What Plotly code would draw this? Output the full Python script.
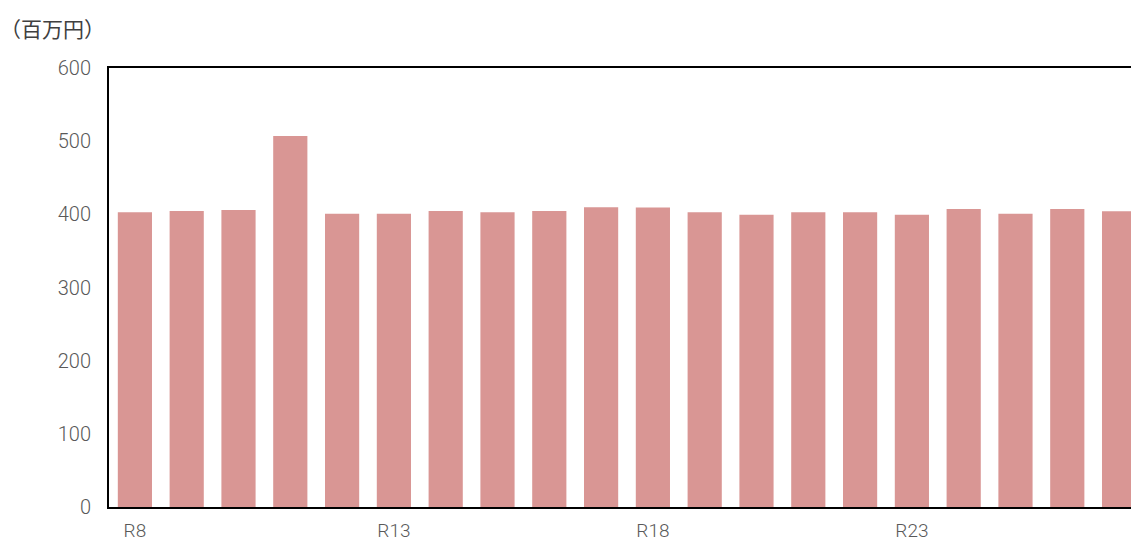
import plotly.graph_objects as go

categories = [f"R{i}" for i in range(8, 28)]
values = [402.8, 404.5, 405.9, 507.0, 400.9, 400.9, 404.5, 402.8, 404.5, 409.6,
          409.3, 402.8, 399.5, 402.8, 402.8, 399.5, 407.3, 400.9, 407.3, 404.1]
tick_labels = ["R8", "R13", "R18", "R23"]
y_ticks = [0, 100, 200, 300, 400, 500, 600]

fig = go.Figure()
fig.add_trace(go.Bar(
    x=categories, y=values,
    marker=dict(color="#D99694", line=dict(width=0)),
))

fig.update_layout(
    width=1131, height=542,
    margin=dict(l=109, r=0, t=68, b=35),
    plot_bgcolor="white", paper_bgcolor="white",
    bargap=0.34,
    showlegend=False,
    font=dict(family="Roboto", size=20, color="#595959", weight=300),
    xaxis=dict(
        type="category",
        range=[-0.5, 19.23],
        automargin=False,
        tickmode="array", tickvals=tick_labels, ticktext=tick_labels,
        showline=True, linecolor="black", linewidth=2, mirror=True,
        ticks="outside", ticklen=5, tickcolor="rgba(0,0,0,0)",
        tickfont=dict(size=19),
        showgrid=False, zeroline=False,
    ),
    yaxis=dict(
        range=[0, 600],
        automargin=False,
        tickvals=y_ticks,
        showline=True, linecolor="black", linewidth=2,
        ticks="outside", ticklen=12, tickcolor="rgba(0,0,0,0)",
        showgrid=False, zeroline=False,
    ),
    annotations=[dict(
        text="（百万円）", x=0, y=1, xref="paper", yref="paper",
        xanchor="left", yanchor="middle", xshift=-111, yshift=40,
        showarrow=False,
        font=dict(family="Noto Sans CJK JP", size=21, color="#404040", weight=400),
    )],
)

fig.write_html(
    "out.html",
    config={"displayModeBar": False},
    post_script="document.body.style.margin='0';document.body.style.overflow='hidden';",
)
